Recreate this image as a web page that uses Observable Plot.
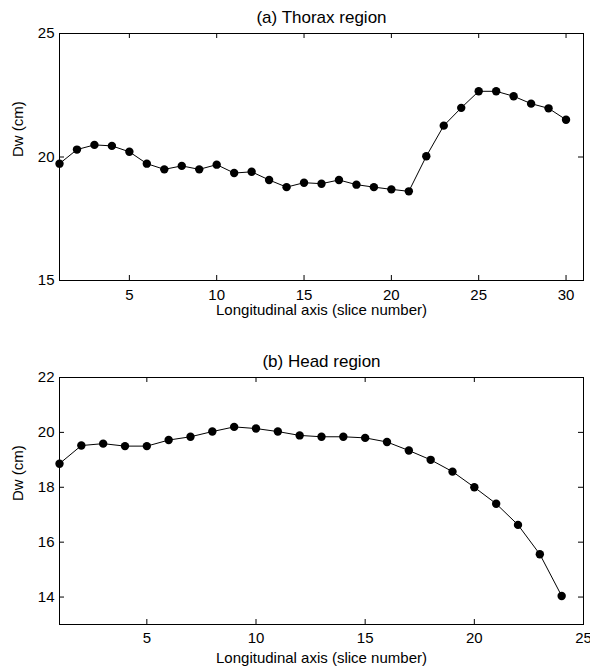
<!DOCTYPE html>
<html>
<head>
<meta charset="utf-8">
<script src="https://cdn.jsdelivr.net/npm/d3@7"></script>
<script src="https://cdn.jsdelivr.net/npm/@observablehq/plot@0.6"></script>
<style>
  html, body { margin: 0; padding: 0; background: #fff; }
  #charts svg { display: block; }
</style>
</head>
<body>
<div id="charts"></div>
<script>
const thoraxTitle = "(a) Thorax region";
const headTitle = "(b) Head region";
const xLabel = "Longitudinal axis (slice number)";
const yLabel = "Dw (cm)";

const thoraxSlices = d3.range(1, 31);
const thoraxValues = [19.73, 20.30, 20.49, 20.45, 20.21, 19.73, 19.50, 19.64, 19.50, 19.69,
                      19.35, 19.40, 19.07, 18.78, 18.96, 18.92, 19.07, 18.88, 18.78, 18.69,
                      18.61, 20.03, 21.27, 21.99, 22.66, 22.66, 22.46, 22.16, 21.97, 21.51];
const thoraxXTicks = [5, 10, 15, 20, 25, 30];
const thoraxYTicks = [15, 20, 25];

const headSlices = d3.range(1, 25);
const headValues = [18.86, 19.52, 19.59, 19.50, 19.50, 19.72, 19.84, 20.03, 20.20, 20.14,
                    20.03, 19.89, 19.84, 19.84, 19.80, 19.65, 19.34, 19.00, 18.57, 18.00,
                    17.40, 16.63, 15.56, 14.04];
const headXTicks = [5, 10, 15, 20, 25];
const headYTicks = [14, 16, 18, 20, 22];

function panel({slices, values, title, xDomain, yDomain, xTicks, yTicks, height, marginTop, marginBottom, xTickPad, xLabelDy}) {
  const width = 590, marginLeft = 59, marginRight = 7;
  const fw = width - marginLeft - marginRight;
  const fh = height - marginTop - marginBottom;
  const data = slices.map((s, i) => ({s, v: values[i]}));
  const innerX = xTicks.filter(t => t > xDomain[0] && t < xDomain[1]);
  const innerY = yTicks.filter(t => t > yDomain[0] && t < yDomain[1]);
  return Plot.plot({
    width, height, marginLeft, marginRight, marginTop, marginBottom,
    style: {fontFamily: "'Liberation Sans', Arial, sans-serif", color: "#000", background: "#fff", overflow: "visible"},
    x: {domain: xDomain},
    y: {domain: yDomain},
    marks: [
      Plot.frame({stroke: "#000", strokeWidth: 1}),
      Plot.tickX(innerX, {x: d => d, insetTop: fh - 5, stroke: "#000"}),
      Plot.tickX(innerX, {x: d => d, insetBottom: fh - 5, stroke: "#000"}),
      Plot.tickY(innerY, {y: d => d, insetRight: fw - 5, stroke: "#000"}),
      Plot.tickY(innerY, {y: d => d, insetLeft: fw - 5, stroke: "#000"}),
      Plot.axisX({ticks: xTicks, tickSize: 0, tickPadding: xTickPad, fontSize: 15, label: null, fill: "#000"}),
      Plot.axisY({ticks: yTicks, tickSize: 0, tickPadding: 5, fontSize: 15, label: null, fill: "#000"}),
      Plot.line(data, {x: "s", y: "v", stroke: "#000", strokeWidth: 1}),
      Plot.dot(data, {x: "s", y: "v", r: 4.2, fill: "#000", stroke: "none"}),
      Plot.text([title], {frameAnchor: "top", dy: -11, lineAnchor: "bottom", fontSize: 17, fill: "#000"}),
      Plot.text([xLabel], {frameAnchor: "bottom", dy: xLabelDy, lineAnchor: "bottom", fontSize: 15, fill: "#000"}),
      Plot.text([yLabel], {frameAnchor: "left", dx: -37, rotate: -90, lineAnchor: "bottom", fontSize: 15, fill: "#000"})
    ]
  });
}

const root = document.getElementById("charts");
root.append(panel({
  slices: thoraxSlices, values: thoraxValues, title: thoraxTitle,
  xDomain: [1, 31], yDomain: [15, 25], xTicks: thoraxXTicks, yTicks: thoraxYTicks,
  height: 340, marginTop: 33, marginBottom: 60, xTickPad: 9, xLabelDy: 34
}));
root.append(panel({
  slices: headSlices, values: headValues, title: headTitle,
  xDomain: [1, 25], yDomain: [13, 22], xTicks: headXTicks, yTicks: headYTicks,
  height: 331, marginTop: 37, marginBottom: 47, xTickPad: 8, xLabelDy: 38
}));
</script>
</body>
</html>
